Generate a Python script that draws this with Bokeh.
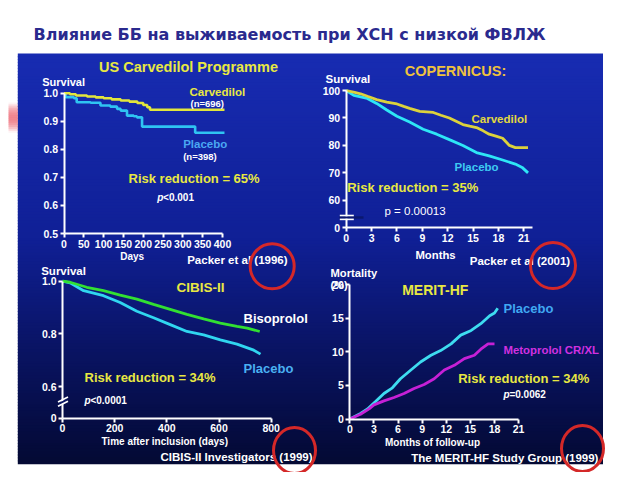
import numpy as np
from bokeh.plotting import figure
from bokeh.models import Range1d, LinearAxis, FixedTicker, PrintfTickFormatter
from bokeh.core.properties import value
from bokeh.embed import file_html
from bokeh.resources import INLINE

# ---------------- data ----------------
title_text = "Влияние ББ на выживаемость при ХСН с низкой ФВЛЖ"

# US Carvedilol Programme (days, survival) - Kaplan-Meier steps
us_days_carvedilol = [0, 15, 30, 58, 80, 100, 120, 143, 165, 185, 200, 210, 217, 405]
us_surv_carvedilol = [1.0, 0.996, 0.992, 0.988, 0.985, 0.982, 0.978, 0.974, 0.970, 0.965, 0.958, 0.950, 0.941, 0.941]
us_days_placebo = [0, 4, 25, 32, 67, 92, 117, 134, 143, 159, 176, 184, 197, 331, 405]
us_surv_placebo = [1.0, 0.986, 0.982, 0.968, 0.966, 0.956, 0.952, 0.944, 0.938, 0.920, 0.918, 0.914, 0.881, 0.859, 0.859]
us_xticks = [0, 50, 100, 150, 200, 250, 300, 350, 400]
us_yticks = [0.5, 0.6, 0.7, 0.8, 0.9, 1.0]

# COPERNICUS (months, survival %)
cop_months_carvedilol = [0, 1.0, 1.7, 2.6, 3.6, 4.8, 6.0, 6.8, 7.5, 8.7, 10.3, 11.2, 12.2, 13.0, 13.8, 14.6,
                         15.4, 16.2, 16.9, 17.7, 18.5, 19.3, 20.0, 21.5]
cop_surv_carvedilol = [100, 99.3, 98.8, 97.8, 96.7, 95.8, 95.1, 94.2, 93.5, 92.4, 92.0, 91.0, 90.0, 88.8, 87.6, 87.0,
                       86.5, 85.3, 84.1, 83.4, 82.6, 80.0, 79.2, 79.2]
cop_months_placebo = [0, 0.9, 2.5, 3.6, 4.8, 6.0, 7.5, 9.1, 10.7, 12.2, 13.8, 15.4, 16.9, 18.5, 20.0, 20.8, 21.5]
cop_surv_placebo = [100, 98.2, 97.1, 95.3, 92.9, 90.6, 88.5, 85.9, 84.1, 82.1, 80.0, 77.4, 76.2, 74.7, 73.2, 72.0, 70.0]
cop_xticks = [0, 3, 6, 9, 12, 15, 18, 21]
cop_yticks = [50, 60, 70, 80, 90, 100]
cop_ylabel_break = {50: "0"}

# CIBIS-II (days, survival)
cib_days_bisoprolol = [0, 29, 93, 157, 221, 285, 349, 413, 477, 541, 605, 669, 708, 756]
cib_surv_bisoprolol = [1.0, 0.996, 0.977, 0.964, 0.947, 0.932, 0.912, 0.893, 0.874, 0.857, 0.841, 0.828, 0.822, 0.809]
cib_days_placebo = [0, 29, 81, 157, 221, 285, 349, 413, 477, 541, 605, 669, 733, 759]
cib_surv_placebo = [1.0, 0.994, 0.964, 0.945, 0.919, 0.886, 0.861, 0.835, 0.809, 0.796, 0.777, 0.761, 0.738, 0.723]
cib_xticks = [0, 200, 400, 600, 800]
cib_yticks = [0.48, 0.6, 0.8, 1.0]
cib_ylabel_break = {0.48: "0"}

# MERIT-HF (months, mortality %)
mer_months_placebo = [0, 1.33, 2.2, 3.2, 4.25, 5.3, 6.3, 7.6, 8.8, 10.1, 11.3, 12.6, 13.8, 15.1, 16.3, 17.4, 18.0, 18.4]
mer_mort_placebo = [0, 0.84, 1.5, 2.6, 3.8, 4.65, 6.0, 7.3, 8.5, 9.5, 10.2, 11.2, 12.5, 13.2, 14.2, 15.4, 15.8, 16.5]
mer_months_metoprolol = [0, 1.33, 2.4, 3.0, 4.25, 5.5, 6.75, 8.0, 9.25, 10.5, 11.75, 13.0, 14.25, 15.5, 16.3, 17.2, 18.0]
mer_mort_metoprolol = [0, 0.7, 1.5, 2.1, 2.7, 3.2, 3.8, 4.55, 5.15, 6.0, 7.3, 8.0, 9.0, 9.5, 10.4, 11.2, 11.2]
mer_xticks = [0, 3, 6, 9, 12, 15, 18, 21]
mer_yticks = [0, 5, 10, 15, 20]

# ---------------- figure ----------------
FW, FH = 632, 472          # figure size
X0, YB = -8, 464           # canvas value at left edge / bottom edge of the frame
p = figure(width=FW, height=FH, output_backend="svg", toolbar_location=None,
           x_range=Range1d(X0, X0 + FW), y_range=Range1d(YB, YB - FH),
           x_axis_type=None, y_axis_type=None, min_border=0,
           outline_line_color=None, background_fill_color="white",
           border_fill_color="white")

FONT = "Liberation Sans"

# slide panel gradient background
PL, PR, PT, PB = 9.3, 594.5, 45.3, 455.3
stops_t = [0.0, 0.45, 0.72, 1.0]
stops_c = [(24, 44, 178), (16, 32, 150), (10, 20, 100), (4, 10, 52)]
n = 140
edges = np.linspace(PT, PB, n + 1)
mids = (np.arange(n) + 0.5) / n
cols = []
for t in mids:
    r = np.interp(t, stops_t, [c[0] for c in stops_c])
    g = np.interp(t, stops_t, [c[1] for c in stops_c])
    b = np.interp(t, stops_t, [c[2] for c in stops_c])
    cols.append("#%02x%02x%02x" % (int(r), int(g), int(b)))
p.quad(left=PL, right=PR, top=edges[:-1] - 0.4, bottom=edges[1:] + 0.4,
       fill_color=cols, line_color=None, level="image")

# pink decoration at the left edge
pk = np.linspace(94, 124, 16)
pk_alpha = list(np.sin(np.linspace(0.1, np.pi - 0.1, 15)) * 0.75)
p.quad(left=0, right=PL, top=pk[:-1], bottom=pk[1:] + 0.3, fill_color="#ec5a68",
       fill_alpha=pk_alpha, line_color=None, level="image")


def anchor_ranges(xa, xb, cxa, cxb, ya, yb, cya, cyb):
    kx = (xb - xa) / (cxb - cxa)
    xs = xa - (cxa - X0) * kx
    ha, hb = YB - cya, YB - cyb
    ky = (yb - ya) / (hb - ha)
    ys = ya - ha * ky
    return Range1d(xs, xs + FW * kx), Range1d(ys, ys + FH * ky)


xr, yr = {}, {}
for nm, args in [("us", (0, 400, 55.5, 214, 1.0, 0.5, 84.7, 225)),
                 ("cop", (0, 21, 337.7, 515.3, 100, 50, 82, 219.3)),
                 ("cib", (0, 800, 54, 262.7, 1.0, 0.6, 272.7, 378)),
                 ("mer", (0, 18, 341.3, 486, 0, 20, 410.5, 276.3))]:
    a, b = anchor_ranges(*args)
    xr[nm] = a
    yr[nm] = b
p.extra_x_ranges = xr
p.extra_y_ranges = yr


def style_axis(ax):
    ax.axis_line_color = "white"
    ax.axis_line_width = 2
    ax.major_tick_line_color = "white"
    ax.major_tick_line_width = 2
    ax.major_tick_out = 4
    ax.major_tick_in = 0
    ax.minor_tick_line_color = None
    ax.major_label_text_color = "white"
    ax.major_label_text_font = FONT
    ax.major_label_text_font_style = "bold"
    ax.major_label_text_font_size = "10.5px"
    ax.major_label_standoff = 2


def add_axes(nm, xticks, xbounds, xloc, yticks, ybounds, yloc, yfmt=None, yover=None):
    xa = LinearAxis(x_range_name=nm, y_range_name=nm, fixed_location=xloc, bounds=xbounds,
                    ticker=FixedTicker(ticks=xticks))
    style_axis(xa)
    p.add_layout(xa, "below")
    ya = LinearAxis(x_range_name=nm, y_range_name=nm, fixed_location=yloc, bounds=ybounds,
                    ticker=FixedTicker(ticks=yticks))
    if yfmt:
        ya.formatter = PrintfTickFormatter(format=yfmt)
    if yover:
        ya.major_label_overrides = yover
    style_axis(ya)
    p.add_layout(ya, "left")


add_axes("us", us_xticks, (0, 400), 0.5, us_yticks, (0.5, 1.0), 0, yfmt="%.1f")
add_axes("cop", cop_xticks, (0, 22), 50, cop_yticks, (50, 100), 0, yover=cop_ylabel_break)
add_axes("cib", cib_xticks, (0, 800), 0.48, cib_yticks, (0.48, 1.0), 0, yfmt="%.1f", yover=cib_ylabel_break)
add_axes("mer", mer_xticks, (0, 21), 0, mer_yticks, (0, 20), 0)

# ---------------- curves ----------------
p.step(us_days_placebo, us_surv_placebo, mode="after", line_color="#2fc4f2", line_width=2.6,
       x_range_name="us", y_range_name="us")
p.step(us_days_carvedilol, us_surv_carvedilol, mode="after", line_color="#e2e63c", line_width=2.6,
       x_range_name="us", y_range_name="us")

p.line(cop_months_placebo, cop_surv_placebo, line_color="#2ee6f6", line_width=2.8,
       x_range_name="cop", y_range_name="cop")
p.line(cop_months_carvedilol, cop_surv_carvedilol, line_color="#dcd23c", line_width=2.8,
       x_range_name="cop", y_range_name="cop")

p.line(cib_days_placebo, cib_surv_placebo, line_color="#30d6f0", line_width=2.8,
       x_range_name="cib", y_range_name="cib")
p.line(cib_days_bisoprolol, cib_surv_bisoprolol, line_color="#32e032", line_width=2.8,
       x_range_name="cib", y_range_name="cib")

p.line(mer_months_placebo, mer_mort_placebo, line_color="#3edcf0", line_width=2.8,
       x_range_name="mer", y_range_name="mer")
p.line(mer_months_metoprolol, mer_mort_metoprolol, line_color="#c620d6", line_width=2.8,
       x_range_name="mer", y_range_name="mer")

# ---------------- axis breaks ----------------
p.quad(left=[331], right=[355], top=[207.8], bottom=[210.2], fill_color="#0b176e",
       line_color=None, level="overlay")
p.segment(x0=[331.3, 331.3], y0=[207, 210.9], x1=[345.3, 345.3], y1=[207, 210.9],
          line_color="white", line_width=1.6, level="overlay")
p.patch([50.5, 58.5, 58.5, 50.5], [394.2, 390.2, 392.8, 396.8], fill_color="#0a1664",
        line_color=None, level="overlay")
p.segment(x0=[49.5, 49.5], y0=[393.5, 397.8], x1=[59.5, 59.5], y1=[388.5, 392.8],
          line_color="white", line_width=1.8, level="overlay")


# ---------------- texts ----------------
def label(x, y, s, size, color="white", align="left", style="bold", font=FONT):
    p.text(x=[x], y=[y], text=[s], text_font=value(font), text_font_size=value("%spx" % size),
           text_font_style=style, text_color=color, text_align=align, text_baseline="middle",
           level="overlay")


YEL = "#e8e842"
label(25, 26, title_text, 16, color="#2a2a8e", font="DejaVu Sans")

# top-left
label(180, 58.7, "US Carvedilol Programme", 14.5, YEL, align="center")
label(33.7, 73.7, "Survival", 11)
label(181, 83, "Carvedilol", 11.5, YEL)
label(182, 94.7, "(n=696)", 9.5)
label(174.7, 135.3, "Placebo", 11.5, "#4aa8f2")
label(174.7, 148, "(n=398)", 9.5)
label(120, 170.3, "Risk reduction = 65%", 13, YEL)
label(148.7, 188.7, "p", 10, style="bold italic")
label(154.6, 188.7, "<0.001", 10)
label(123.7, 248, "Days", 10, align="center")
label(178.7, 251.3, "Packer et al (1996)", 11.5)

# top-right
label(447, 62, "COPERNICUS:", 14.5, "#eec23e", align="center")
label(317, 70.3, "Survival", 11.5)
label(463, 110, "Carvedilol", 11.5, "#e2d840")
label(446, 158.7, "Placebo", 11.5, "#3ecaf2")
label(338.7, 178.7, "Risk reduction = 35%", 13, YEL)
label(376, 202, "p = 0.00013", 11.5, style="normal")
label(427, 246, "Months", 11.3, align="center")
label(461.3, 252, "Packer et al (2001)", 11.5)

# bottom-left
label(32.7, 262, "Survival", 11.5)
label(168, 278.7, "CIBIS-II", 13.5, YEL)
label(235, 309.7, "Bisoprolol", 13)
label(235, 360.3, "Placebo", 13, "#4ab0f2")
label(76, 368.7, "Risk reduction = 34%", 13, YEL)
label(76, 392, "p", 10, style="bold italic")
label(81.9, 392, "<0.0001", 10)
label(156.2, 433, "Time after inclusion (days)", 10, align="center")
label(152, 448.7, "CIBIS-II Investigators (1999)", 11.5)

# bottom-right
label(322, 264.3, "Mortality", 11.2)
label(322, 276.3, "(%)", 11)
label(393.7, 281.3, "MERIT-HF", 14, YEL)
label(495, 299.7, "Placebo", 13, "#40a8f2")
label(495, 341, "Metoprolol CR/XL", 11.4, "#d030e0")
label(449.7, 370.3, "Risk reduction = 34%", 13, YEL)
label(495, 386.3, "p", 10, style="bold italic")
label(500.9, 386.3, "=0.0062", 10)
label(424, 433.7, "Months of follow-up", 10, align="center")
label(402.7, 449.3, "The MERIT-HF Study Group (1999)", 11.5)

# red circles
p.ellipse(x=[263.7, 544.5, 286, 574], y=[257.8, 257, 442, 440], width=[44, 45, 42, 42],
          height=[45, 46, 46, 46], fill_color=None, line_color="#d42828", line_width=3,
          level="overlay")

open("out.html", "w").write(file_html(p, INLINE))
